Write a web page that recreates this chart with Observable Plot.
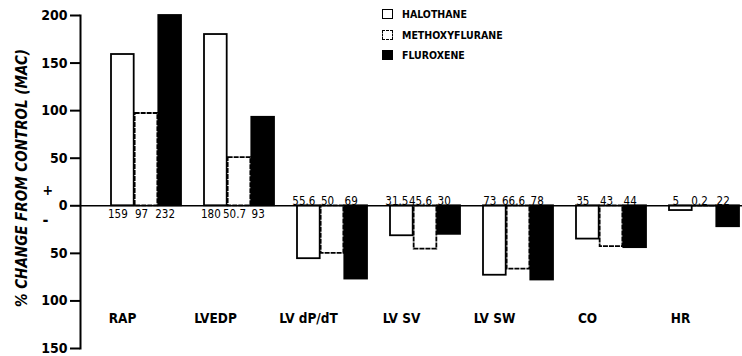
<!DOCTYPE html>
<html><head><meta charset="utf-8">
<script src="https://cdn.jsdelivr.net/npm/d3@7"></script>
<script src="https://cdn.jsdelivr.net/npm/@observablehq/plot@0.6"></script>
<style>
body{margin:0;background:#fff;}
#wrap{position:relative;width:742px;height:356px;}
#legend{position:absolute;left:382px;top:4px;font-family:"DejaVu Sans Condensed","DejaVu Sans",sans-serif;font-weight:bold;font-size:10.5px;color:#000;}
.row{display:flex;align-items:center;height:20.5px;}
.sw{width:11px;height:10px;border:1.6px solid #000;box-sizing:border-box;margin-right:9px;background:#fff;}
</style></head><body><div id="wrap"><div id="legend"></div></div>
<script>
const categories = ["RAP","LVEDP","LV dP/dT","LV SV","LV SW","CO","HR"];
const seriesNames = ["HALOTHANE","METHOXYFLURANE","FLUROXENE"];
const halothane = [159,180,-55.6,-31.5,-73,-35,-5];
const methoxyflurane = [97,50.7,-50,-45.6,-66.6,-43,-0.2];
const fluroxene = [232,93,-77,-30,-78,-44,-22];
const halothaneLabels = ["159","180","55.6","31.5","73","35","5"];
const methoxyfluraneLabels = ["97","50.7","50","45.6","66.6","43","0.2"];
const fluroxeneLabels = ["232","93","69","30","78","44","22"];
const yTicks = [-150,-100,-50,0,50,100,150,200];
const yLabel = "% CHANGE FROM CONTROL (MAC)";

const FONT = '"DejaVu Sans Condensed","DejaVu Sans",sans-serif';
const seriesData = [halothane, methoxyflurane, fluroxene];
const seriesLabels = [halothaneLabels, methoxyfluraneLabels, fluroxeneLabels];
const fills = ["#fff", "#fff", "#000"];
const dashes = [null, "5,1", null];
const third = 70.96 / 3;

const marks = [];
seriesData.forEach((vals, i) => {
  const rows = categories.map((c, j) => ({cat: c, value: vals[j], label: seriesLabels[i][j]}));
  marks.push(Plot.rectY(rows, {
    x: "cat", y1: () => 0, y2: "value",
    fill: fills[i], stroke: "#000", strokeWidth: 1.8,
    strokeDasharray: dashes[i],
    insetLeft: i * third, insetRight: (2 - i) * third
  }));
  const off = (i - 1) * third - 5;
  marks.push(Plot.text(rows.filter(d => d.value > 0), {
    x: "cat", y: () => 0, text: "label", dx: off, dy: 4,
    lineAnchor: "top", fontSize: 11.5, fontFamily: FONT
  }));
  marks.push(Plot.text(rows.filter(d => d.value <= 0), {
    x: "cat", y: () => 0, text: "label", dx: off, dy: -1,
    lineAnchor: "bottom", fontSize: 11.5, fontFamily: FONT
  }));
});

const chart = Plot.plot({
  width: 742, height: 356,
  marginLeft: 80, marginRight: 0, marginTop: 15, marginBottom: 8,
  style: {fontFamily: FONT, background: "#fff", color: "#000"},
  x: {domain: categories, paddingInner: 0.245, paddingOuter: 0.144, align: 0.926, axis: null},
  y: {domain: [-150, 200], clamp: true, axis: null},
  marks: [
    ...marks,
    Plot.ruleY([0], {stroke: "#000", strokeWidth: 1.6}),
    Plot.frame({anchor: "left", stroke: "#000", strokeWidth: 2}),
    Plot.axisY(yTicks, {tickSize: 10, tickPadding: 3, tickFormat: d => Math.abs(d),
      strokeWidth: 2, fontSize: 14, fontWeight: "bold", fontFamily: FONT, label: null}),
    Plot.text([yLabel], {frameAnchor: "left", textAnchor: "middle", dx: -58, dy: -4, rotate: -90,
      fontSize: 15, fontWeight: "bold", fontStyle: "italic", fontFamily: FONT}),
    Plot.text(["+"], {y: [0], frameAnchor: "left", dx: -38, dy: -15, text: d => d,
      fontSize: 14, fontWeight: "bold", fontFamily: FONT}),
    Plot.text(["-"], {y: [0], frameAnchor: "left", dx: -38, dy: 14, text: d => d,
      fontSize: 16, fontWeight: "bold", fontFamily: FONT}),
    Plot.text(categories, {x: d => d, frameAnchor: "bottom", dy: -26, dx: -24, text: d => d,
      fontSize: 13.5, fontWeight: "bold", fontFamily: FONT})
  ]
});
document.getElementById("wrap").prepend(chart);

const legend = document.getElementById("legend");
seriesNames.forEach((name, i) => {
  const row = document.createElement("div");
  row.className = "row";
  const sw = document.createElement("div");
  sw.className = "sw";
  sw.style.background = fills[i];
  if (dashes[i]) sw.style.borderStyle = "dashed";
  const t = document.createElement("span");
  t.textContent = name;
  row.append(sw, t);
  legend.append(row);
});
</script></body></html>
